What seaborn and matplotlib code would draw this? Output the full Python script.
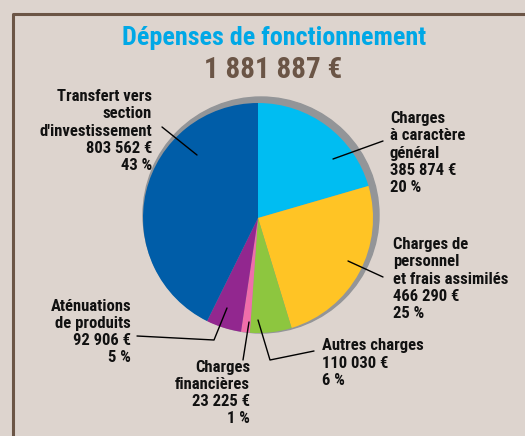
import matplotlib
matplotlib.use("Agg")
import matplotlib.pyplot as plt
import seaborn as sns
import pandas as pd
from matplotlib.patches import Circle

# data
categories = [
    "Charges\nà caractère\ngénéral",
    "Charges de\npersonnel\net frais assimilés",
    "Autres charges",
    "Charges\nfinancières",
    "Aténuations\nde produits",
    "Transfert vers\nsection\nd'investissement",
]
amounts = [385874, 466290, 110030, 23225, 92906, 803562]
amount_labels = ["385 874 €", "466 290 €", "110 030 €", "23 225 €", "92 906 €", "803 562 €"]
percent_labels = ["20 %", "25 %", "6 %", "1 %", "5 %", "43 %"]
slice_colors = ["#00BDF2", "#FFC425", "#8DC63F", "#F06EAA", "#92278F", "#005DA8"]
title = "Dépenses de fonctionnement"
total_label = "1 881 887 €"

df = pd.DataFrame({"categorie": categories, "montant": amounts,
                   "montant_txt": amount_labels, "pct": percent_labels})

BG = "#DDD4CE"
BROWN = "#6B5546"

sns.set_style("white", rc={"axes.facecolor": BG, "figure.facecolor": BG})
plt.rcParams["font.family"] = ["Roboto Condensed", "DejaVu Sans"]

fig = plt.figure(figsize=(5.25, 4.36), dpi=100)
ax = fig.add_axes([0, 0, 1, 1])
fig.patch.set_facecolor(BG)

# frame
ax.plot([13, 13, 525], [436, 14, 14], color=BROWN, lw=2.2, solid_capstyle="butt")

cx, cy, r = 258, 218, 115

# shadow behind the pie
ax.add_patch(Circle((cx + 3, cy - 3), r + 3, color="#939598", zorder=1))

palette = sns.color_palette(slice_colors)
ax.pie(df["montant"], colors=palette, center=(cx, cy), radius=r,
       startangle=-90, counterclock=True, frame=True,
       wedgeprops={"linewidth": 0, "zorder": 2})
ax.set_xlim(0, 525)
ax.set_ylim(436, 0)
ax.axis("off")

ax.text(274, 38, title, color="#00A8E6", fontsize=18.8, fontweight="bold",
        ha="center", va="center")
ax.text(273, 70, total_label, color=BROWN, fontsize=21, fontweight="bold",
        ha="center", va="center")

# label layout: (x, y center of block, alignment)
label_pos = [(390, 153, "left"), (393, 279, "left"), (322, 363, "left"),
             (250, 393, "right"), (131, 332, "right"), (152, 131, "right")]

for (x, y, ha), (_, row) in zip(label_pos, df.iterrows()):
    txt = f"{row['categorie']}\n{row['montant_txt']}\n{row['pct']}"
    ax.text(x, y, txt, ha=ha, va="center", multialignment=ha,
            fontsize=12, fontweight="bold", color="#111111", linespacing=1.17,
            zorder=5)

leaders = [
    [(333, 159), (383, 141)],
    [(348, 261), (383, 277)],
    [(258, 320), (270, 360), (314, 351)],
    [(249, 322), (243, 360)],
    [(227, 308), (214, 340), (137, 336)],
    [(197, 155), (162, 127)],
]
for pts in leaders:
    xs, ys = zip(*pts)
    ax.plot(xs, ys, color="black", lw=1, zorder=4)

fig.savefig("out.png", dpi=100, facecolor=BG)
